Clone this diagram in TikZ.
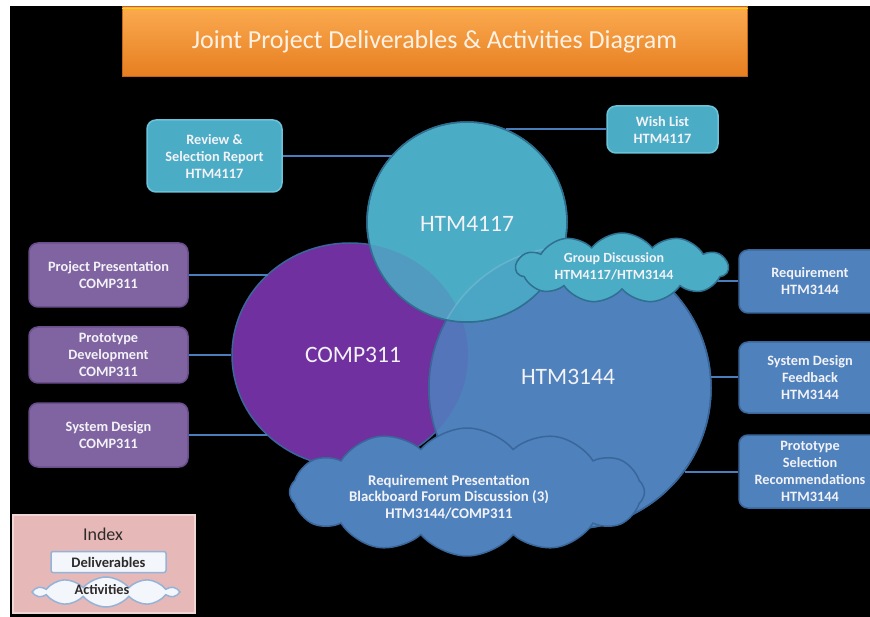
\documentclass[tikz,border=0pt]{standalone}
\usepackage{fontspec}
\setmainfont{Carlito}
\usetikzlibrary{shapes.symbols,shapes.geometric,calc}

\definecolor{tealc}{HTML}{4BACC6}
\definecolor{tealline}{HTML}{2F6F90}
\definecolor{purpc}{HTML}{7030A0}
\definecolor{purpbox}{HTML}{8064A2}
\definecolor{purpboxline}{HTML}{6A4F8C}
\definecolor{bluec}{HTML}{4F81BD}
\definecolor{blueline}{HTML}{3A679A}
\definecolor{connblue}{HTML}{4A7EBB}
\definecolor{tealbox}{HTML}{4BACC6}
\definecolor{tealboxline}{HTML}{6CC2D8}
\definecolor{txtw}{HTML}{F2F2F7}
\definecolor{orangeT}{HTML}{FBAA50}
\definecolor{orangeB}{HTML}{E67E20}
\definecolor{orangeL}{HTML}{C0661A}
\definecolor{pinkidx}{HTML}{E6B9B8}
\definecolor{pinkline}{HTML}{F2D6D5}
\definecolor{idxblue}{HTML}{95B3D7}
\definecolor{idxfill}{HTML}{F3F6FB}
\definecolor{idxtext}{HTML}{2E2A2A}
\colorlet{mixBC}{bluec!85!purpc}
\colorlet{mixHC}{tealc!85!purpc}
\colorlet{mixHB}{tealc!85!bluec}
\colorlet{mixHBC}{tealc!85!mixBC}

\tikzset{
  boxfont/.style={font=\bfseries\fontsize{14.3}{17}\selectfont, text=txtw, align=center},
  dbox/.style={boxfont, rounded corners=9pt, line width=1.5pt, inner sep=2pt},
  purplebox/.style={dbox, fill=purpbox, draw=purpboxline, minimum width=159pt},
  tealdbox/.style={dbox, fill=tealbox, draw=tealboxline},
  bluebox/.style={dbox, fill=bluec, draw=blueline, minimum width=142pt},
  bigcirc/.style={inner sep=0pt, line width=1.5pt},
  circlabel/.style={font=\fontsize{23.5}{26}\selectfont, text=txtw},
  conn/.style={draw=connblue, line width=2pt},
  cloudbox/.style={cloud, cloud ignores aspect, inner sep=0pt, line width=1.5pt},
}

\begin{document}
\begin{tikzpicture}[x=1pt,y=-1pt]
\useasboundingbox (0,0) rectangle (870,617);
\fill[white] (0,0) rectangle (870,617);
\fill[black] (10,6) rectangle (870,617);

% title
\node[draw=orangeL, line width=1pt, top color=orangeT, bottom color=orangeB,
      minimum width=625pt, minimum height=70pt, inner sep=0pt,
      font=\fontsize{26}{30}\selectfont, text=white!90!orange] (title) at (434.5,42)
      {Joint Project Deliverables \& Activities Diagram};
\draw[yellow!70!orange, line width=1.5pt] ([yshift=-2pt]title.north west) -- ([yshift=-2pt]title.north east);

% big circles (opaque, with blended overlaps)
\node[bigcirc, ellipse, minimum width=236pt, minimum height=224pt, fill=purpc, draw=blueline] (comp) at (350,355) {};
\node[bigcirc, circle, minimum size=282pt, fill=bluec, draw=blueline] (h3144) at (570,388) {};
\begin{scope}
  \clip (comp.center) ellipse [x radius=118pt, y radius=112pt];
  \fill[mixBC] (h3144.center) circle [radius=141pt];
\end{scope}
\draw[blueline, line width=1.5pt] (h3144.center) circle [radius=141pt];
\node[bigcirc, circle, minimum size=200pt, fill=tealc, draw=tealline] (h4117) at (467,222) {};
\begin{scope}
  \clip (h4117.center) circle [radius=100pt];
  \begin{scope}
    \clip (comp.center) ellipse [x radius=118pt, y radius=112pt];
    \fill[mixHC] (h4117.center) circle [radius=100pt];
  \end{scope}
  \begin{scope}
    \clip (h3144.center) circle [radius=141pt];
    \fill[mixHB] (h4117.center) circle [radius=100pt];
    \clip (comp.center) ellipse [x radius=118pt, y radius=112pt];
    \fill[mixHBC] (h4117.center) circle [radius=100pt];
  \end{scope}
  \draw[white, opacity=0.15, line width=1.5pt] (h3144.center) circle [radius=141pt];
\end{scope}
\draw[tealline, line width=1.5pt] (h4117.center) circle [radius=100pt];

% deliverable boxes
\node[tealdbox, minimum width=135pt, minimum height=72pt] (rev) at (214.5,156) {Review \&\\Selection Report\\HTM4117};
\node[tealdbox, minimum width=111pt, minimum height=47pt] (wish) at (662.5,129.5) {Wish List\\HTM4117};
\node[purplebox, minimum height=64pt] (pp) at (108.5,275) {Project Presentation\\COMP311};
\node[purplebox, minimum height=56pt] (pd) at (108.5,355) {Prototype\\Development\\COMP311};
\node[purplebox, minimum height=64pt] (sd) at (108.5,435) {System Design\\COMP311};
\node[bluebox, minimum height=63pt] (req) at (810,281.5) {Requirement\\HTM3144};
\node[bluebox, minimum height=71pt] (sdf) at (810,377.5) {System Design\\Feedback\\HTM3144};
\node[bluebox, minimum height=73pt] (psr) at (810,471.5) {Prototype\\Selection\\Recommendations\\HTM3144};

% connectors
\draw[conn] (rev.east) -- (rev.east -| h4117.138.7);
\draw[conn] (wish.west) -- (wish.west -| h4117.67.7);
\draw[conn] (pp.east) -- (pp.east -| comp.135.9);
\draw[conn] (pd.east) -- (pd.east -| comp.180);
\draw[conn] (sd.east) -- (sd.east -| comp.224.1);
\draw[conn] (sdf.west) -- (sdf.west -| h3144.4.3);
\draw[conn] (psr.west) -- (psr.west -| h3144.-36.3);
\draw[conn] (req.west) -- (req.west -| 660,0);

% circle labels
\node[circlabel] (lcomp) at (353,355) {COMP311};
\node[circlabel] (l3144) at (568,377) {HTM3144};
\node[circlabel] (l4117) at (467,224) {HTM4117};

% activity clouds
\node[cloudbox, cloud puffs=11, cloud puff arc=105, minimum width=212pt, minimum height=70pt,
      fill=tealc, draw=tealline] (grp) at (622,268) {};
\node[boxfont, font=\bfseries\fontsize{14}{17}\selectfont] (grptxt) at (614,266) {Group Discussion\\HTM4117/HTM3144};

\node[cloudbox, cloud puffs=12, cloud puff arc=100, minimum width=355pt, minimum height=128pt,
      fill=bluec, draw=blueline] (pres) at (467,492) {};
\node[boxfont, font=\bfseries\fontsize{14.8}{16.8}\selectfont] (prestxt) at (449,497) {Requirement Presentation\\Blackboard Forum Discussion (3)\\HTM3144/COMP311};

% index
\node[fill=pinkidx, draw=pinkline, line width=1.5pt, minimum width=182pt, minimum height=98pt] (idx) at (104,564) {};
\node[font=\fontsize{18}{20}\selectfont, text=idxtext] (idxt) at (103,534) {Index};
\node[fill=idxfill, draw=idxblue, line width=1.5pt, rounded corners=2pt, minimum width=115pt, minimum height=21pt,
      inner sep=0pt, font=\bfseries\fontsize{14.5}{16}\selectfont, text=idxtext] (idel) at (108.5,562) {Deliverables};
\node[cloudbox, cloud puffs=10, cloud puff arc=100, minimum width=142pt, minimum height=30pt,
      fill=idxfill, draw=idxblue] (iact) at (106,592) {};
\node[font=\bfseries\fontsize{14.3}{16}\selectfont, text=idxtext] (iactt) at (102,590) {Activities};
\end{tikzpicture}
\end{document}
